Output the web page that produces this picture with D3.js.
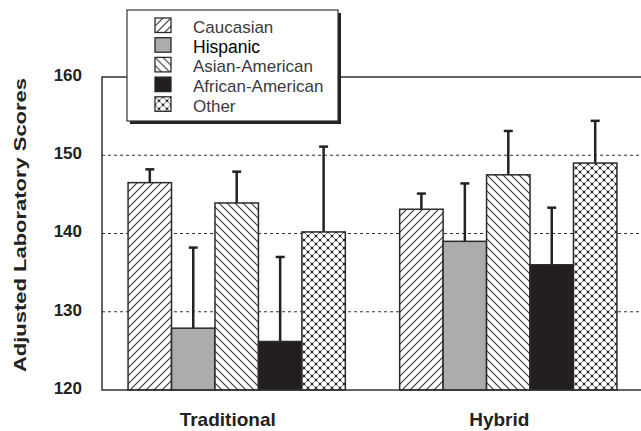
<!DOCTYPE html>
<html>
<head>
<meta charset="utf-8">
<script src="https://cdn.jsdelivr.net/npm/d3@7"></script>
<style>
  body { margin: 0; background: #fff; }
  text { font-family: "Liberation Sans", Arial, sans-serif; }
</style>
</head>
<body>
<script>
// chart data
var groups = ['Traditional', 'Hybrid'];
var races = ['Caucasian', 'Hispanic', 'Asian-American', 'African-American', 'Other'];
var traditionalMeans = [146.5, 127.9, 143.9, 126.2, 140.2];
var traditionalErrors = [1.7, 10.3, 4.0, 10.8, 10.9];
var hybridMeans = [143.1, 139.0, 147.5, 136.0, 149.0];
var hybridErrors = [2.0, 7.4, 5.6, 7.3, 5.4];
var yTicks = [120, 130, 140, 150, 160];
var gridValues = [130, 140, 150];

var means = { Traditional: traditionalMeans, Hybrid: hybridMeans };
var errors = { Traditional: traditionalErrors, Hybrid: hybridErrors };

var rows = [];
groups.forEach(function(g) {
    races.forEach(function(r, i) {
        rows.push({ group: g, race: r, value: means[g][i], err: errors[g][i] });
    });
});

var W = 641, H = 431;
// plot area edges (named so they don't clash with window.top)
var plotLeft = 102, plotTop = 77, plotRight = 643, plotBottom = 390;

var svg = d3.select('body').append('svg')
    .attr('width', W)
    .attr('height', H)
    .style('background', '#fff');

// fill patterns
var defs = svg.append('defs');
function linePattern(id, d) {
    var p = defs.append('pattern')
        .attr('id', id)
        .attr('patternUnits', 'userSpaceOnUse')
        .attr('width', 8).attr('height', 8);
    p.append('rect').attr('width', 8).attr('height', 8).attr('fill', '#fff');
    p.append('path').attr('d', d)
        .attr('stroke', '#333').attr('stroke-width', 1.1).attr('fill', 'none');
    return p;
}
linePattern('p-fwd', 'M-2,2L2,-2M0,8L8,0M6,10L10,6');
linePattern('p-back', 'M-2,6L2,10M0,0L8,8M6,-2L10,2');
var cross = linePattern('p-cross', 'M-2,2L2,-2M0,8L8,0M6,10L10,6M-2,6L2,10M0,0L8,8M6,-2L10,2');
cross.select('path').attr('stroke', '#777').attr('stroke-width', 0.9);
[[0, 0], [8, 0], [0, 8], [8, 8], [4, 4]].forEach(function(c) {
    cross.append('rect')
        .attr('x', c[0] - 1.2).attr('y', c[1] - 1.2)
        .attr('width', 2.4).attr('height', 2.4)
        .attr('fill', '#222');
});

var fills = {
    'Caucasian': 'url(#p-fwd)',
    'Hispanic': '#abacae',
    'Asian-American': 'url(#p-back)',
    'African-American': '#231f20',
    'Other': 'url(#p-cross)'
};

// scales
var y = d3.scaleLinear().domain([120, 160]).range([plotBottom, plotTop]);
var x0 = d3.scaleBand().domain(groups).range([plotLeft, plotRight])
    .paddingInner(0.2).paddingOuter(0.096);
var x1 = d3.scaleBand().domain(races).range([0, x0.bandwidth()]);

// dashed grid lines
svg.selectAll('.grid')
    .data(gridValues)
    .enter()
    .append('line')
    .attr('class', 'grid')
    .attr('x1', plotLeft).attr('x2', plotRight)
    .attr('y1', function(d) { return y(d); })
    .attr('y2', function(d) { return y(d); })
    .attr('stroke', '#333')
    .attr('stroke-width', 1.2)
    .attr('stroke-dasharray', '3,3');

// error bars (drawn under bars so stems start at bar tops)
var eb = svg.selectAll('.err')
    .data(rows)
    .enter()
    .append('g')
    .attr('class', 'err')
    .attr('transform', function(d) {
        return 'translate(' + (x0(d.group) + x1(d.race) + x1.bandwidth() / 2) + ',0)';
    });
eb.append('line')
    .attr('y1', function(d) { return y(d.value); })
    .attr('y2', function(d) { return y(d.value + d.err); })
    .attr('stroke', '#222').attr('stroke-width', 2.5);
eb.append('line')
    .attr('x1', -4.5).attr('x2', 4.5)
    .attr('y1', function(d) { return y(d.value + d.err); })
    .attr('y2', function(d) { return y(d.value + d.err); })
    .attr('stroke', '#222').attr('stroke-width', 2.5);

// bars
svg.selectAll('.bar')
    .data(rows)
    .enter()
    .append('rect')
    .attr('class', 'bar')
    .attr('x', function(d) { return x0(d.group) + x1(d.race); })
    .attr('width', x1.bandwidth())
    .attr('y', function(d) { return y(d.value); })
    .attr('height', function(d) { return y(120) - y(d.value); })
    .attr('fill', function(d) { return fills[d.race]; })
    .attr('stroke', '#2a2a2a')
    .attr('stroke-width', 1.5);

// frame
svg.append('rect')
    .attr('x', plotLeft).attr('y', plotTop)
    .attr('width', plotRight - plotLeft).attr('height', plotBottom - plotTop)
    .attr('fill', 'none')
    .attr('stroke', '#333')
    .attr('stroke-width', 1.5);

// y axis labels
var yAxis = d3.axisLeft(y).tickValues(yTicks).tickSize(0).tickPadding(20);
var ya = svg.append('g')
    .attr('transform', 'translate(' + plotLeft + ',0)')
    .call(yAxis);
ya.select('.domain').remove();
ya.selectAll('text')
    .attr('dy', '0.2em')
    .style('font-family', '"Liberation Sans", Arial, sans-serif')
    .style('font-size', '17px')
    .style('font-weight', 'bold')
    .attr('fill', '#222');

// x category labels
svg.selectAll('.cat')
    .data(groups)
    .enter()
    .append('text')
    .attr('class', 'cat')
    .attr('x', function(d) { return x0(d) + x0.bandwidth() / 2 - 9; })
    .attr('y', 426)
    .attr('text-anchor', 'middle')
    .style('font-size', '19px')
    .style('font-weight', 'bold')
    .attr('fill', '#222')
    .text(function(d) { return d; });

// y title
svg.append('text')
    .attr('transform', 'translate(26,225) rotate(-90)')
    .attr('text-anchor', 'middle')
    .attr('textLength', 294)
    .attr('lengthAdjust', 'spacingAndGlyphs')
    .style('font-size', '17px')
    .style('font-weight', 'bold')
    .attr('fill', '#222')
    .text('Adjusted Laboratory Scores');

// legend
var lg = svg.append('g');
lg.append('rect')
    .attr('x', 130).attr('y', 13)
    .attr('width', 211).attr('height', 111)
    .attr('fill', '#222');
lg.append('rect')
    .attr('x', 127).attr('y', 10)
    .attr('width', 211).attr('height', 111)
    .attr('fill', '#fff')
    .attr('stroke', '#333')
    .attr('stroke-width', 1.2);

var items = lg.selectAll('.item')
    .data(races)
    .enter()
    .append('g')
    .attr('class', 'item')
    .attr('transform', function(d, i) { return 'translate(155,' + (18 + i * 19.7) + ')'; });
items.append('rect')
    .attr('width', 16).attr('height', 14.5)
    .attr('fill', function(d) { return fills[d]; })
    .attr('stroke', '#2a2a2a')
    .attr('stroke-width', 1.3);
items.append('text')
    .attr('x', 38)
    .attr('y', function(d) { return d === 'Hispanic' ? 15.5 : 15; })
    .style('font-size', function(d) { return d === 'Hispanic' ? '17.5px' : '17px'; })
    .attr('fill', function(d) { return d === 'Hispanic' ? '#000' : '#3a3a3a'; })
    .text(function(d) { return d; });
</script>
</body>
</html>
